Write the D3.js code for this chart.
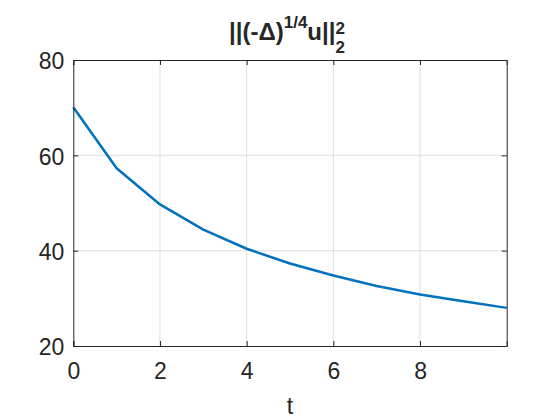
<!DOCTYPE html>
<html>
<head>
<meta charset="utf-8">
<script src="https://cdn.jsdelivr.net/npm/d3@7"></script>
<style>
  body { margin: 0; background: #fff; }
  text { font-family: "Liberation Sans", Arial, Helvetica, sans-serif; fill: #262626; }
</style>
</head>
<body>
<svg id="chart"></svg>
<script>
// data
var times = [0, 1, 2, 3, 4, 5, 6, 7, 8, 9, 10];
var energy = [70.1, 57.3, 49.7, 44.4, 40.4, 37.3, 34.8, 32.6, 30.8, 29.4, 28.0];
var xTicks = [0, 2, 4, 6, 8];
var yTicks = [20, 40, 60, 80];

var width = 560, height = 420;
var mLeft = 73.3, mRight = 506.7, mTop = 60, mBottom = 346;

var svg = d3.select("#chart")
  .attr("width", width)
  .attr("height", height);

var x = d3.scaleLinear().domain([0, 10]).range([mLeft, mRight]);
var y = d3.scaleLinear().domain([20, 80]).range([mBottom, mTop]);

// grid
svg.append("g").selectAll("line")
  .data(xTicks.slice(1))
  .enter().append("line")
  .attr("x1", d => x(d)).attr("x2", d => x(d))
  .attr("y1", mTop).attr("y2", mBottom)
  .attr("stroke", "#dfdfdf").attr("stroke-width", 1);

svg.append("g").selectAll("line")
  .data(yTicks.slice(1, -1))
  .enter().append("line")
  .attr("x1", mLeft).attr("x2", mRight)
  .attr("y1", d => y(d)).attr("y2", d => y(d))
  .attr("stroke", "#dfdfdf").attr("stroke-width", 1);

// the curve
var line = d3.line()
  .x((d, i) => x(times[i]))
  .y(d => y(d));

svg.append("path")
  .datum(energy)
  .attr("d", line)
  .attr("fill", "none")
  .attr("stroke", "#0072BD")
  .attr("stroke-width", 2.5)
  .attr("stroke-linejoin", "round");

// axes, ticks pointing inward on all four sides (box on)
var tl = -5;
var xBottom = svg.append("g")
  .attr("transform", "translate(0," + mBottom + ")")
  .call(d3.axisBottom(x).tickValues(xTicks).tickSize(tl).tickFormat(d3.format("d")));
var xTop = svg.append("g")
  .attr("transform", "translate(0," + mTop + ")")
  .call(d3.axisTop(x).tickValues(xTicks).tickSize(tl).tickFormat(""));
var yLeft = svg.append("g")
  .attr("transform", "translate(" + mLeft + ",0)")
  .call(d3.axisLeft(y).tickValues(yTicks).tickSize(tl));
var yRight = svg.append("g")
  .attr("transform", "translate(" + mRight + ",0)")
  .call(d3.axisRight(y).tickValues(yTicks).tickSize(tl).tickFormat(""));

[xBottom, xTop, yLeft, yRight].forEach(function (g) {
  g.select(".domain").attr("stroke", "#262626").attr("stroke-width", 1);
  g.selectAll(".tick line").attr("stroke", "#262626").attr("stroke-width", 1);
  g.selectAll("text")
    .attr("fill", "#262626")
    .style("font-family", "'Liberation Sans', Arial, sans-serif")
    .style("font-size", "23px");
});
xBottom.selectAll("text").attr("dy", "0.72em").attr("y", 16);
yLeft.selectAll("text").attr("dy", "0.38em").attr("x", -9);

// x label
svg.append("text")
  .attr("x", (mLeft + mRight) / 2)
  .attr("y", 414)
  .attr("text-anchor", "middle")
  .style("font-size", "23px")
  .text("t");

// title ||(-Δ)^{1/4}u||_2^2
var title = svg.append("g");
var tt = title.append("text")
  .attr("x", 0).attr("y", 40)
  .style("font-size", "24px")
  .style("font-weight", "bold");
tt.append("tspan").text("||(-\u0394)");
tt.append("tspan").attr("dy", -12).style("font-size", "17px").text("1/4");
tt.append("tspan").attr("dy", 12).text("u||");
var supX = tt.node().getComputedTextLength();
tt.append("tspan").attr("dy", -6).style("font-size", "17px").text("2");
title.append("text")
  .attr("x", supX).attr("y", 53)
  .style("font-size", "17px")
  .style("font-weight", "bold")
  .text("2");
var bw = title.node().getBBox().width;
title.attr("transform", "translate(" + ((mLeft + mRight) / 2 - 3 - bw / 2) + ",0)");
</script>
</body>
</html>
